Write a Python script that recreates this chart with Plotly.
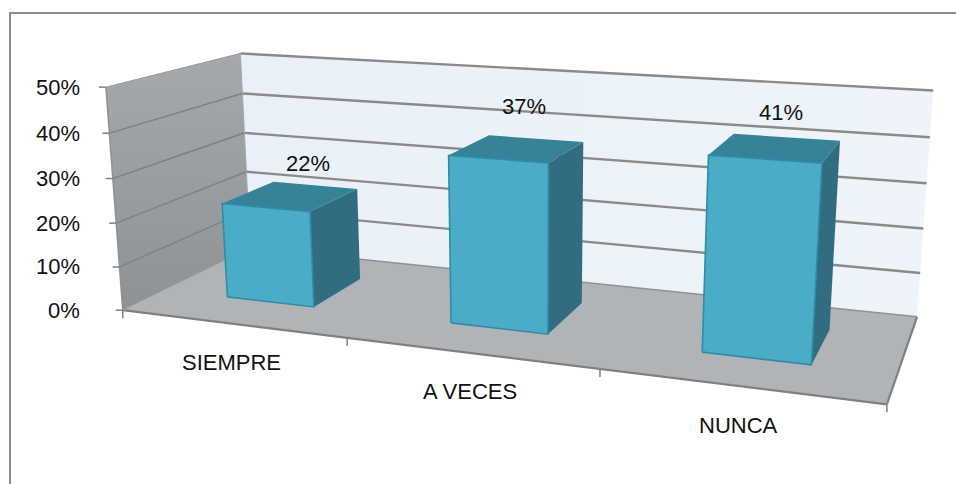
import numpy as np
import plotly.graph_objects as go

# Chart content
categories = ["SIEMPRE", "A VECES", "NUNCA"]
values = [0.22, 0.37, 0.41]
value_ticks = [0.0, 0.1, 0.2, 0.3, 0.4, 0.5]
value_tick_labels = ["0%", "10%", "20%", "30%", "40%", "50%"]

# Box extents in scale units: x = category slot, y = share, z = depth into the box
BAR_X = (0.30, 0.70)
BAR_Z = (0.30, 0.72)
Y_MAX = value_ticks[-1]
N = len(categories)

# Perspective camera, solved from where the box corners and axis ticks sit on the page
ANCHORS = [
    ((0, 0, 0), (123, 309)), ((1, 0, 0), (347, 337)), ((2, 0, 0), (600, 370)), ((3, 0, 0), (887, 405)),
    ((0, .5, 0), (105.7, 87.7)), ((0, 0, 1), (250, 250)), ((3, 0, 1), (917, 316)),
    ((0, .5, 1), (240, 53.3)), ((3, .5, 1), (933, 90.7)), ((0, .4, 1), (243, 93)),
    ((0, .2, 1), (246.5, 171)), ((3, .3, 1), (927, 184)), ((3, .1, 1), (920, 272)),
]


def solve_camera(anchors):
    rows = []
    for (x, y, z), (u, v) in anchors:
        p = [x, y, z, 1.0]
        rows.append(p + [0, 0, 0, 0] + [-u * c for c in p])
        rows.append([0, 0, 0, 0] + p + [-v * c for c in p])
    return np.linalg.svd(np.array(rows))[2][-1].reshape(3, 4)


CAMERA = solve_camera(ANCHORS)


def project(x, y, z):
    u, v, w = CAMERA @ np.array([x, y, z, 1.0])
    return u / w, v / w


fig = go.Figure()


def polygon(points, color, line=None, width=0, gradient=None):
    pts = [project(*p) for p in points]
    xs = [p[0] for p in pts] + [pts[0][0]]
    ys = [p[1] for p in pts] + [pts[0][1]]
    kw = {"fillgradient": gradient} if gradient else {"fillcolor": color}
    fig.add_trace(go.Scatter(x=xs, y=ys, mode="lines", fill="toself",
                             line=dict(color=line or color, width=width), hoverinfo="skip", **kw))


def segment(a, b, color, width):
    pa, pb = project(*a), project(*b)
    fig.add_trace(go.Scatter(x=[pa[0], pb[0]], y=[pa[1], pb[1]], mode="lines",
                             line=dict(color=color, width=width), hoverinfo="skip"))


# Walls and floor
polygon([(0, 0, 1), (N, 0, 1), (N, Y_MAX, 1), (0, Y_MAX, 1)], "#EAF1F8",
        gradient=dict(type="horizontal", colorscale=[[0, "#E9F0F7"], [1, "#EEF4FA"]]))
polygon([(0, 0, 0), (0, 0, 1), (0, Y_MAX, 1), (0, Y_MAX, 0)], "#9B9EA0",
        gradient=dict(type="vertical", colorscale=[[0, "#8F9294"], [1, "#A6A9AB"]]))
polygon([(0, 0, 0), (N, 0, 0), (N, 0, 1), (0, 0, 1)], "#B1B4B7")

# Gridlines on the two walls
for t in value_ticks[1:-1]:
    segment((0, t, 0), (0, t, 1), "#808385", 1.6)
for t in value_ticks[1:]:
    segment((0, t, 1), (N, t, 1), "#8A8A8A", 2.4)
segment((0, Y_MAX, 0), (0, Y_MAX, 1), "#94979A", 1)
segment((0, 0, 1), (N, 0, 1), "#8F9193", 1.5)

# Box edges
segment((0, 0, 0), (0, Y_MAX, 0), "#8F9294", 1.5)
segment((0, 0, 1), (0, Y_MAX, 1), "#A5A8AA", 1)
segment((0, 0, 0), (N, 0, 0), "#808080", 2.2)
segment((N, 0, 0), (N, 0, 1), "#808080", 2.2)
segment((0, 0, 0), (0, 0, 1), "#A0A3A5", 1)

# Bars
EDGE = "#2F8CA6"
for i, v in enumerate(values):
    x0, x1 = i + BAR_X[0], i + BAR_X[1]
    z0, z1 = BAR_Z
    polygon([(x1, 0, z0), (x1, 0, z1), (x1, v, z1), (x1, v, z0)], "#316C80")
    polygon([(x0, v, z0), (x1, v, z0), (x1, v, z1), (x0, v, z1)], "#368299")
    polygon([(x0, 0, z0), (x1, 0, z0), (x1, v, z0), (x0, v, z0)], "#4BACC8", line=EDGE, width=1.6)

# Axis tick marks
for t in value_ticks:
    px, py = project(0, t, 0)
    fig.add_trace(go.Scatter(x=[px - 7, px], y=[py, py], mode="lines",
                             line=dict(color="#808080", width=1.5), hoverinfo="skip"))
for i in range(N + 1):
    px, py = project(i, 0, 0)
    fig.add_trace(go.Scatter(x=[px, px], y=[py, py + 8], mode="lines",
                             line=dict(color="#808080", width=1.5), hoverinfo="skip"))

# Chart area frame: top and left sides only
fig.add_trace(go.Scatter(x=[10, 10, 956], y=[484, 13, 13], mode="lines",
                         line=dict(color="#8C8C8C", width=2), hoverinfo="skip"))

FONT = dict(family="Liberation Sans", size=22, color="#111111")


def label(px, py, text, anchor="center"):
    fig.add_annotation(x=px, y=py, text=text, showarrow=False, font=FONT,
                       xanchor=anchor, yanchor="middle", xref="x", yref="y")


for t, s in zip(value_ticks, value_tick_labels):
    px, py = project(0, t, 0)
    label(82, py, s, "right")
for i, name in enumerate(categories):
    px, py = project(i + 0.5, 0, 0)
    label(px, py + 39, name)
# Value labels float a little above and behind each bar's top face
LABEL_SHIFT = [(18, -33), (7, -43), (6, -36)]
for i, v in enumerate(values):
    px, py = project(i + 0.5, v, 0.5)
    dx, dy = LABEL_SHIFT[i]
    label(px + dx, py + dy, f"{round(v * 100)}%")

fig.update_layout(
    width=956, height=484, margin=dict(l=0, r=0, t=0, b=0),
    paper_bgcolor="white", plot_bgcolor="white", showlegend=False,
    xaxis=dict(range=[0, 956], visible=False, fixedrange=True),
    yaxis=dict(range=[484, 0], visible=False, fixedrange=True),
)
fig.write_html("out.html", config={"displayModeBar": False})
